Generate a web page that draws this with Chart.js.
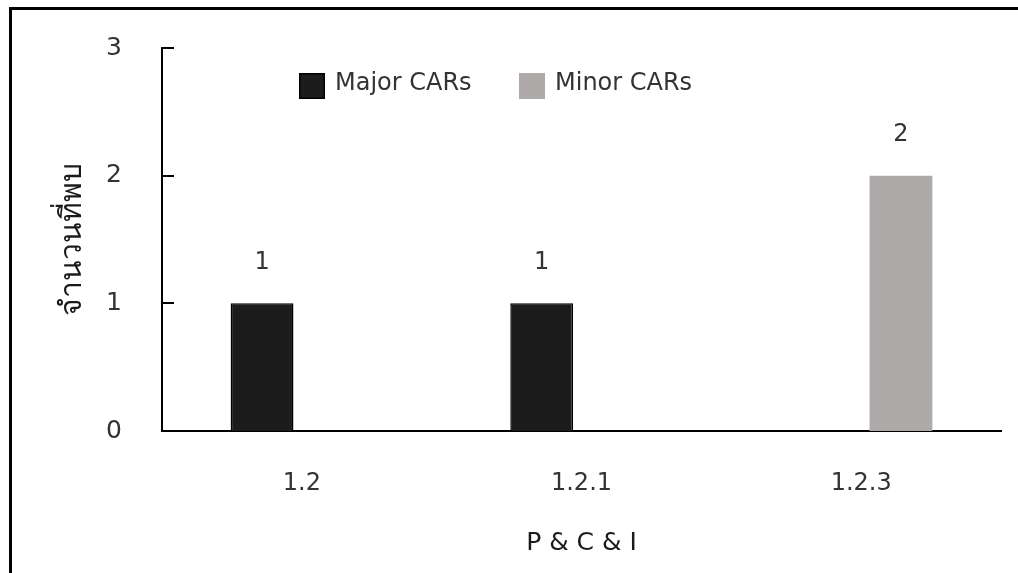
<!DOCTYPE html>
<html><head><meta charset="utf-8">
<script src="https://cdn.jsdelivr.net/npm/chart.js@4"></script>
<style>
html,body{margin:0;padding:0;background:#fff;overflow:hidden;}
#wrap{position:relative;width:1018px;height:573px;}
#frame{position:absolute;left:9px;top:7px;right:0;bottom:-10px;border-left:3px solid #000;border-top:3px solid #000;pointer-events:none;}
canvas{position:absolute;left:0;top:0;}
</style></head><body>
<div id="wrap"><canvas id="c" width="1018" height="573"></canvas><div id="frame"></div></div>
<script>
const categories = ['1.2', '1.2.1', '1.2.3'];
const majorCARs = [1, 1, null];
const minorCARs = [null, null, 2];
const yTicks = [0, 1, 2, 3];
const seriesNames = ['Major CARs', 'Minor CARs'];
const yTitle = 'จำนวนที่พบ';
const xTitle = 'P & C & I';

const FONT = '"DejaVu Sans", "Noto Sans", sans-serif';
const TEXT = '#333333';

const innerTicks = {
  id: 'innerTicks',
  afterDraw(chart) {
    const y = chart.scales.y, ctx = chart.ctx, left = chart.chartArea.left;
    ctx.save();
    ctx.strokeStyle = '#000'; ctx.lineWidth = 2;
    y.ticks.forEach(t => {
      const py = Math.round(y.getPixelForValue(t.value));
      ctx.beginPath(); ctx.moveTo(left - 1, py); ctx.lineTo(left + 12, py); ctx.stroke();
    });
    ctx.restore();
  }
};

const valueLabels = {
  id: 'valueLabels',
  afterDatasetsDraw(chart) {
    const ctx = chart.ctx;
    ctx.save();
    ctx.font = '24px ' + FONT; ctx.fillStyle = TEXT;
    ctx.textAlign = 'center'; ctx.textBaseline = 'middle';
    chart.data.datasets.forEach((ds, di) => {
      chart.getDatasetMeta(di).data.forEach((bar, i) => {
        const v = ds.data[i];
        if (v === null || v === undefined) return;
        ctx.fillText(String(v), bar.x, bar.y - 41);
      });
    });
    ctx.restore();
  }
};

const innerLegend = {
  id: 'innerLegend',
  afterDraw(chart) {
    const ctx = chart.ctx;
    const xs = [299, 519], top = 73, box = 26;
    ctx.save();
    ctx.font = '24px ' + FONT; ctx.textBaseline = 'middle'; ctx.textAlign = 'left';
    chart.data.datasets.forEach((ds, i) => {
      ctx.fillStyle = ds.backgroundColor;
      ctx.fillRect(xs[i], top, box, box);
      if (ds.borderWidth) { ctx.strokeStyle = ds.borderColor; ctx.lineWidth = 1.5; ctx.strokeRect(xs[i] + 0.75, top + 0.75, box - 1.5, box - 1.5); }
      ctx.fillStyle = TEXT;
      ctx.fillText(ds.label, xs[i] + box + 10, top + box / 2 - 2);
    });
    ctx.restore();
  }
};

new Chart(document.getElementById('c'), {
  type: 'bar',
  data: {
    labels: categories,
    datasets: [
      { label: seriesNames[0], data: majorCARs, backgroundColor: '#1c1c1c', borderColor: '#000000', borderWidth: 1.5 },
      { label: seriesNames[1], data: minorCARs, backgroundColor: '#aeaaaa', borderWidth: 0 }
    ]
  },
  options: {
    responsive: false, animation: false, devicePixelRatio: 1,
    categoryPercentage: 0.569, barPercentage: 0.79,
    layout: { padding: { top: 48, right: 17, left: 0, bottom: 0 } },
    plugins: { legend: { display: false }, tooltip: { enabled: false } },
    scales: {
      x: {
        grid: { display: false, drawTicks: false },
        border: { display: true, color: '#000', width: 2 },
        ticks: { color: TEXT, font: { family: FONT, size: 24 }, padding: 38 },
        title: { display: true, text: xTitle, color: '#1a1a1a', font: { family: FONT, size: 25 }, padding: { top: 0, bottom: 15 } },
        afterFit: s => { s.height = 142; }
      },
      y: {
        min: 0, max: 3,
        afterBuildTicks: s => { s.ticks = yTicks.map(v => ({ value: v })); },
        grid: { display: false, drawTicks: true, tickLength: 40 },
        border: { display: true, color: '#000', width: 2 },
        ticks: { color: TEXT, font: { family: FONT, size: 25 }, padding: 0 },
        title: { display: true, text: yTitle, color: '#1a1a1a', font: { family: FONT, size: 30 }, padding: { top: 55, bottom: 0 } },
        afterFit: s => { s.width = 162; }
      }
    }
  },
  plugins: [innerTicks, valueLabels, innerLegend]
});
</script>
</body></html>
